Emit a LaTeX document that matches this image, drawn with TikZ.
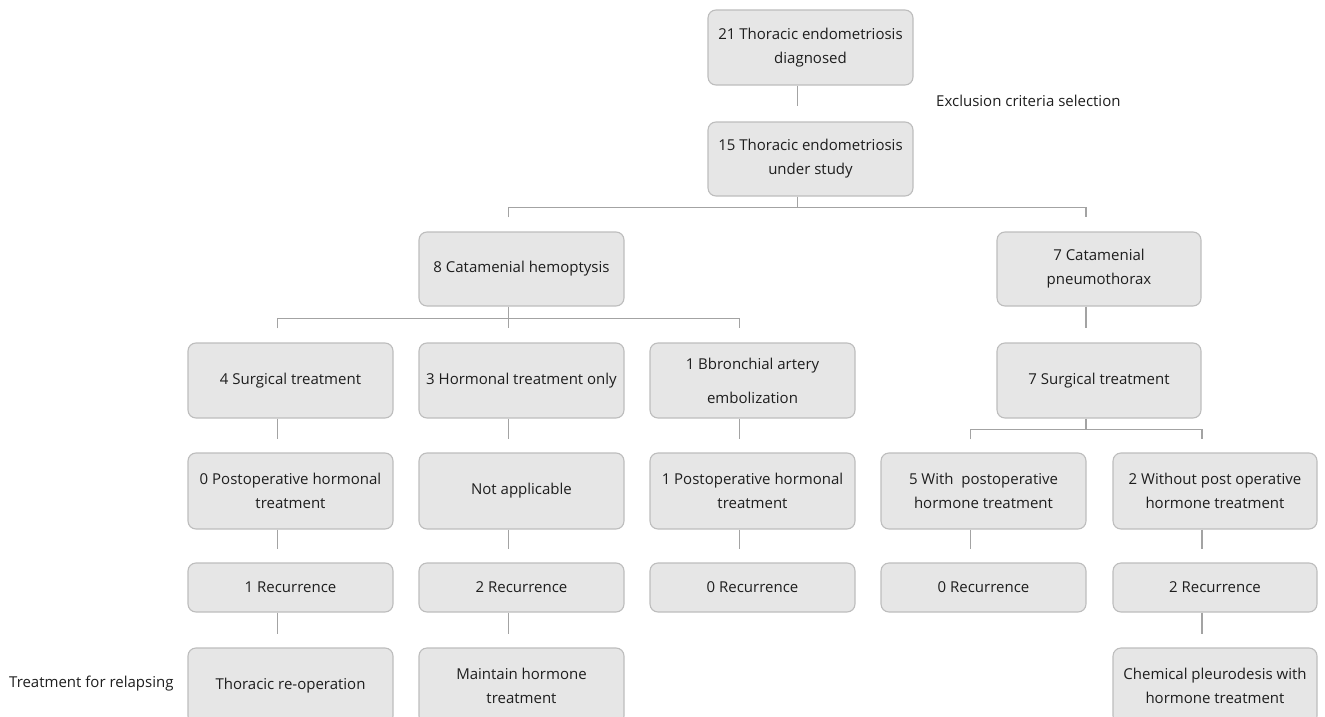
\documentclass[tikz,border=0pt]{standalone}
\usepackage{fontspec}
\setmainfont{Open Sans}
\usetikzlibrary{calc}
\definecolor{boxfill}{HTML}{E6E6E6}
\definecolor{boxline}{HTML}{BDBDBD}
\definecolor{conn}{HTML}{A3A3A3}
\definecolor{txt}{HTML}{1E1E1E}
\tikzset{
  box/.style={draw=boxline, line width=1.1pt, fill=boxfill, rounded corners=8pt,
    minimum width=205pt, minimum height=75pt, inner sep=0pt, align=center,
    text=txt, font=\fontsize{15}{24}\selectfont},
  shortbox/.style={box, minimum height=49pt},
  lbl/.style={text=txt, font=\fontsize{15}{24}\selectfont, inner sep=0pt, anchor=west},
  cn/.style={draw=conn, line width=1.1pt}
}
\begin{document}
\begin{tikzpicture}[x=1pt,y=-1pt]
\useasboundingbox (0,0) rectangle (1325,717);
\clip (0,0) rectangle (1325,717);
% row 0/1
\node[box] (b1) at (810.5,47.5) {21 Thoracic endometriosis\\diagnosed};
\node[box, minimum height=74pt] (b2) at (810.5,159) {15 Thoracic endometriosis\\under study};
\node[lbl] (excl) at (936,101) {Exclusion criteria selection};
% row 2
\node[box, minimum height=74pt] (b3) at (521.5,269) {8 Catamenial hemoptysis};
\node[box, minimum height=74pt, minimum width=204pt] (b4) at (1099,269) {7 Catamenial\\pneumothorax};
% row 3
\node[box] (b5) at (290.5,380.5) {4 Surgical treatment};
\node[box] (b6) at (521.5,380.5) {3 Hormonal treatment only};
\node[box, font=\fontsize{15}{34}\selectfont] (b7) at (752.5,380.5) {1 Bbronchial artery\\embolization};
\node[box, minimum width=204pt] (b8) at (1099,380.5) {7 Surgical treatment};
% row 4
\node[box, minimum height=76pt] (b9) at (290.5,491) {0 Postoperative hormonal\\treatment};
\node[box, minimum height=76pt] (b10) at (521.5,491) {Not applicable};
\node[box, minimum height=76pt] (b11) at (752.5,491) {1 Postoperative hormonal\\treatment};
\node[box, minimum height=76pt] (b12) at (983.5,491) {5 With\ \ postoperative\\hormone treatment};
\node[box, minimum height=76pt, minimum width=204pt] (b13) at (1215,491) {2 Without post operative\\hormone treatment};
% row 5
\node[shortbox] (b14) at (290.5,587.5) {1 Recurrence};
\node[shortbox] (b15) at (521.5,587.5) {2 Recurrence};
\node[shortbox] (b16) at (752.5,587.5) {0 Recurrence};
\node[shortbox] (b17) at (983.5,587.5) {0 Recurrence};
\node[shortbox, minimum width=204pt] (b18) at (1215,587.5) {2 Recurrence};
% row 6
\node[box, minimum height=76pt] (b19) at (290.5,686) {Thoracic re-operation};
\node[box, minimum height=76pt] (b20) at (521.5,686) {Maintain hormone\\treatment};
\node[box, minimum height=76pt, minimum width=204pt] (b21) at (1215,686) {Chemical pleurodesis with\\hormone treatment};
\node[lbl] (relapse) at (9,684) {Treatment for relapsing};
% connectors
\draw[cn] ($(b1.south)+(-13,0)$) -- ($(b2.north)+(-13,-15)$);
\coordinate (h1) at ($(b2.south)+(-13,11)$);
\draw[cn] ($(b2.south)+(-13,0)$) -- (h1);
\draw[cn] ($(b3.north)+(-13,-14)$) |- (h1) -| ($(b4.north)+(-13,-14)$);
\coordinate (h2) at ($(b3.south)+(-13,12)$);
\draw[cn] ($(b3.south)+(-13,0)$) -- ($(b6.north)+(-13,-14)$);
\draw[cn] ($(b5.north)+(-13,-14)$) |- (h2) -| ($(b7.north)+(-13,-14)$);
\draw[cn] ($(b4.south)+(-13,0)$) -- ($(b8.north)+(-13,-14)$);
\draw[cn] ($(b5.south)+(-13,0)$) -- ($(b9.north)+(-13,-13)$);
\draw[cn] ($(b6.south)+(-13,0)$) -- ($(b10.north)+(-13,-13)$);
\draw[cn] ($(b7.south)+(-13,0)$) -- ($(b11.north)+(-13,-13)$);
\coordinate (h3) at ($(b8.south)+(-13,11)$);
\draw[cn] ($(b8.south)+(-13,0)$) -- (h3);
\draw[cn] ($(b12.north)+(-13,-13)$) |- (h3) -| ($(b13.north)+(-13,-13)$);
\draw[cn] ($(b9.south)+(-13,0)$) -- ($(b14.north)+(-13,-13)$);
\draw[cn] ($(b10.south)+(-13,0)$) -- ($(b15.north)+(-13,-13)$);
\draw[cn] ($(b11.south)+(-13,0)$) -- ($(b16.north)+(-13,-13)$);
\draw[cn] ($(b12.south)+(-13,0)$) -- ($(b17.north)+(-13,-13)$);
\draw[cn] ($(b13.south)+(-13,0)$) -- ($(b18.north)+(-13,-13)$);
\draw[cn] ($(b14.south)+(-13,0)$) -- ($(b19.north)+(-13,-13)$);
\draw[cn] ($(b15.south)+(-13,0)$) -- ($(b20.north)+(-13,-13)$);
\draw[cn] ($(b18.south)+(-13,0)$) -- ($(b21.north)+(-13,-13)$);
\end{tikzpicture}
\end{document}
